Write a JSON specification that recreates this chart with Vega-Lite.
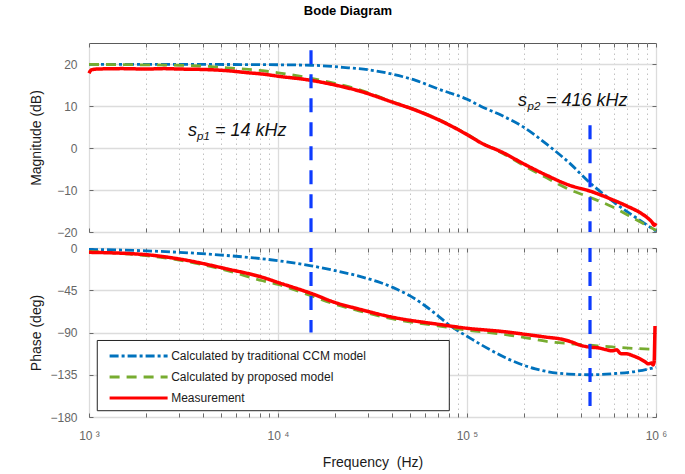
{
  "$schema": "https://vega.github.io/schema/vega-lite/v6.json",
  "background": "white",
  "padding": {"left": 28, "top": 5, "right": 12, "bottom": 4},
  "title": {"text": "Bode Diagram", "fontSize": 13, "fontWeight": "bold", "font": "Liberation Sans", "color": "#000000", "offset": 24, "anchor": "middle"},
  "spacing": 16,
  "bounds": "flush",
  "config": {
    "view": {"stroke": "#5a5a5a", "strokeWidth": 1},
    "font": "Liberation Sans"
  },
  "datasets": {
    "mag": [
      {"s": "Calculated by traditional CCM model", "f": 1000, "v": 19.9},
      {"s": "Calculated by traditional CCM model", "f": 3000, "v": 19.9},
      {"s": "Calculated by traditional CCM model", "f": 8000, "v": 19.85},
      {"s": "Calculated by traditional CCM model", "f": 15000, "v": 19.7},
      {"s": "Calculated by traditional CCM model", "f": 22000, "v": 19.2},
      {"s": "Calculated by traditional CCM model", "f": 31400, "v": 18.5},
      {"s": "Calculated by traditional CCM model", "f": 41000, "v": 17.5},
      {"s": "Calculated by traditional CCM model", "f": 53500, "v": 16.1},
      {"s": "Calculated by traditional CCM model", "f": 70000, "v": 14.1},
      {"s": "Calculated by traditional CCM model", "f": 100000, "v": 11.6},
      {"s": "Calculated by traditional CCM model", "f": 118800, "v": 9.9},
      {"s": "Calculated by traditional CCM model", "f": 155000, "v": 7.6},
      {"s": "Calculated by traditional CCM model", "f": 202000, "v": 4.8},
      {"s": "Calculated by traditional CCM model", "f": 264000, "v": 0.9},
      {"s": "Calculated by traditional CCM model", "f": 345000, "v": -3.4},
      {"s": "Calculated by traditional CCM model", "f": 450000, "v": -8.4},
      {"s": "Calculated by traditional CCM model", "f": 587000, "v": -12.6},
      {"s": "Calculated by traditional CCM model", "f": 700000, "v": -15.1},
      {"s": "Calculated by traditional CCM model", "f": 809000, "v": -17.0},
      {"s": "Calculated by traditional CCM model", "f": 1000000, "v": -19.8},
      {"s": "Calculated by proposed model", "f": 1000, "v": 19.9},
      {"s": "Calculated by proposed model", "f": 2000, "v": 19.8},
      {"s": "Calculated by proposed model", "f": 3000, "v": 19.7},
      {"s": "Calculated by proposed model", "f": 4000, "v": 19.5},
      {"s": "Calculated by proposed model", "f": 5400, "v": 19.1},
      {"s": "Calculated by proposed model", "f": 8300, "v": 18.4},
      {"s": "Calculated by proposed model", "f": 10000, "v": 17.9},
      {"s": "Calculated by proposed model", "f": 15000, "v": 16.6},
      {"s": "Calculated by proposed model", "f": 20000, "v": 15.4},
      {"s": "Calculated by proposed model", "f": 26800, "v": 13.9},
      {"s": "Calculated by proposed model", "f": 41000, "v": 10.9},
      {"s": "Calculated by proposed model", "f": 53500, "v": 9.1},
      {"s": "Calculated by proposed model", "f": 70000, "v": 6.9},
      {"s": "Calculated by proposed model", "f": 100000, "v": 3.3},
      {"s": "Calculated by proposed model", "f": 118800, "v": 1.3},
      {"s": "Calculated by proposed model", "f": 155000, "v": -1.3},
      {"s": "Calculated by proposed model", "f": 202000, "v": -4.3},
      {"s": "Calculated by proposed model", "f": 264000, "v": -7.1},
      {"s": "Calculated by proposed model", "f": 345000, "v": -9.8},
      {"s": "Calculated by proposed model", "f": 450000, "v": -11.8},
      {"s": "Calculated by proposed model", "f": 587000, "v": -14.0},
      {"s": "Calculated by proposed model", "f": 809000, "v": -17.4},
      {"s": "Calculated by proposed model", "f": 1000000, "v": -19.6},
      {"s": "Measurement", "f": 1000, "v": 17.8},
      {"s": "Measurement", "f": 1030, "v": 18.6},
      {"s": "Measurement", "f": 1100, "v": 18.8},
      {"s": "Measurement", "f": 1500, "v": 18.9},
      {"s": "Measurement", "f": 2000, "v": 18.8},
      {"s": "Measurement", "f": 2500, "v": 18.9},
      {"s": "Measurement", "f": 3000, "v": 18.8},
      {"s": "Measurement", "f": 4000, "v": 18.7},
      {"s": "Measurement", "f": 5400, "v": 18.4},
      {"s": "Measurement", "f": 7000, "v": 17.9},
      {"s": "Measurement", "f": 8300, "v": 17.6},
      {"s": "Measurement", "f": 10000, "v": 17.1},
      {"s": "Measurement", "f": 15000, "v": 16.1},
      {"s": "Measurement", "f": 20000, "v": 15.0},
      {"s": "Measurement", "f": 26800, "v": 13.6},
      {"s": "Measurement", "f": 41000, "v": 10.8},
      {"s": "Measurement", "f": 53500, "v": 9.0},
      {"s": "Measurement", "f": 70000, "v": 6.8},
      {"s": "Measurement", "f": 100000, "v": 3.2},
      {"s": "Measurement", "f": 118800, "v": 1.2},
      {"s": "Measurement", "f": 155000, "v": -1.1},
      {"s": "Measurement", "f": 202000, "v": -3.9},
      {"s": "Measurement", "f": 264000, "v": -6.5},
      {"s": "Measurement", "f": 345000, "v": -8.8},
      {"s": "Measurement", "f": 450000, "v": -10.3},
      {"s": "Measurement", "f": 587000, "v": -12.3},
      {"s": "Measurement", "f": 700000, "v": -13.8},
      {"s": "Measurement", "f": 809000, "v": -15.2},
      {"s": "Measurement", "f": 900000, "v": -16.6},
      {"s": "Measurement", "f": 950000, "v": -17.6},
      {"s": "Measurement", "f": 980000, "v": -18.4},
      {"s": "Measurement", "f": 1000000, "v": -17.9}
    ],
    "phase": [
      {"s": "Calculated by traditional CCM model", "f": 1000, "v": -1.5},
      {"s": "Calculated by traditional CCM model", "f": 2000, "v": -3},
      {"s": "Calculated by traditional CCM model", "f": 5000, "v": -7.5},
      {"s": "Calculated by traditional CCM model", "f": 10000, "v": -13.5},
      {"s": "Calculated by traditional CCM model", "f": 15000, "v": -19},
      {"s": "Calculated by traditional CCM model", "f": 20000, "v": -24},
      {"s": "Calculated by traditional CCM model", "f": 26800, "v": -30},
      {"s": "Calculated by traditional CCM model", "f": 35000, "v": -37},
      {"s": "Calculated by traditional CCM model", "f": 41000, "v": -42.5},
      {"s": "Calculated by traditional CCM model", "f": 50000, "v": -51},
      {"s": "Calculated by traditional CCM model", "f": 60000, "v": -61.5},
      {"s": "Calculated by traditional CCM model", "f": 70000, "v": -72},
      {"s": "Calculated by traditional CCM model", "f": 80000, "v": -81.5},
      {"s": "Calculated by traditional CCM model", "f": 90000, "v": -88.5},
      {"s": "Calculated by traditional CCM model", "f": 100000, "v": -94},
      {"s": "Calculated by traditional CCM model", "f": 118800, "v": -103},
      {"s": "Calculated by traditional CCM model", "f": 140000, "v": -111},
      {"s": "Calculated by traditional CCM model", "f": 160000, "v": -117},
      {"s": "Calculated by traditional CCM model", "f": 180000, "v": -121.5},
      {"s": "Calculated by traditional CCM model", "f": 202000, "v": -125.3},
      {"s": "Calculated by traditional CCM model", "f": 230000, "v": -128.7},
      {"s": "Calculated by traditional CCM model", "f": 264000, "v": -131.5},
      {"s": "Calculated by traditional CCM model", "f": 345000, "v": -134.3},
      {"s": "Calculated by traditional CCM model", "f": 450000, "v": -135},
      {"s": "Calculated by traditional CCM model", "f": 587000, "v": -133.9},
      {"s": "Calculated by traditional CCM model", "f": 809000, "v": -131},
      {"s": "Calculated by traditional CCM model", "f": 1000000, "v": -127},
      {"s": "Calculated by proposed model", "f": 1000, "v": -3.6},
      {"s": "Calculated by proposed model", "f": 2000, "v": -8.2},
      {"s": "Calculated by proposed model", "f": 3000, "v": -12.8},
      {"s": "Calculated by proposed model", "f": 5400, "v": -24.2},
      {"s": "Calculated by proposed model", "f": 8300, "v": -34.9},
      {"s": "Calculated by proposed model", "f": 10000, "v": -38.8},
      {"s": "Calculated by proposed model", "f": 15000, "v": -50.9},
      {"s": "Calculated by proposed model", "f": 20000, "v": -59.8},
      {"s": "Calculated by proposed model", "f": 26800, "v": -66.9},
      {"s": "Calculated by proposed model", "f": 41000, "v": -75.8},
      {"s": "Calculated by proposed model", "f": 70000, "v": -82.9},
      {"s": "Calculated by proposed model", "f": 100000, "v": -87.5},
      {"s": "Calculated by proposed model", "f": 155000, "v": -91.9},
      {"s": "Calculated by proposed model", "f": 202000, "v": -95.4},
      {"s": "Calculated by proposed model", "f": 264000, "v": -99.5},
      {"s": "Calculated by proposed model", "f": 345000, "v": -101.8},
      {"s": "Calculated by proposed model", "f": 450000, "v": -103.6},
      {"s": "Calculated by proposed model", "f": 587000, "v": -105.4},
      {"s": "Calculated by proposed model", "f": 809000, "v": -107.2},
      {"s": "Calculated by proposed model", "f": 1000000, "v": -108},
      {"s": "Measurement", "f": 1000, "v": -4.6},
      {"s": "Measurement", "f": 2000, "v": -7.1},
      {"s": "Measurement", "f": 3000, "v": -11.7},
      {"s": "Measurement", "f": 5400, "v": -22.4},
      {"s": "Measurement", "f": 8300, "v": -31.3},
      {"s": "Measurement", "f": 10000, "v": -36.7},
      {"s": "Measurement", "f": 15000, "v": -48.4},
      {"s": "Measurement", "f": 20000, "v": -58},
      {"s": "Measurement", "f": 26800, "v": -65.1},
      {"s": "Measurement", "f": 41000, "v": -74},
      {"s": "Measurement", "f": 70000, "v": -81.2},
      {"s": "Measurement", "f": 100000, "v": -85.5},
      {"s": "Measurement", "f": 155000, "v": -89},
      {"s": "Measurement", "f": 202000, "v": -91.9},
      {"s": "Measurement", "f": 264000, "v": -95},
      {"s": "Measurement", "f": 311000, "v": -96.8},
      {"s": "Measurement", "f": 345000, "v": -99},
      {"s": "Measurement", "f": 405000, "v": -104},
      {"s": "Measurement", "f": 446000, "v": -105.6},
      {"s": "Measurement", "f": 500000, "v": -106.5},
      {"s": "Measurement", "f": 550000, "v": -108.5},
      {"s": "Measurement", "f": 587000, "v": -109.5},
      {"s": "Measurement", "f": 620000, "v": -108.5},
      {"s": "Measurement", "f": 650000, "v": -112.5},
      {"s": "Measurement", "f": 700000, "v": -112.7},
      {"s": "Measurement", "f": 760000, "v": -115},
      {"s": "Measurement", "f": 823000, "v": -118},
      {"s": "Measurement", "f": 880000, "v": -121.5},
      {"s": "Measurement", "f": 910000, "v": -123.4},
      {"s": "Measurement", "f": 948000, "v": -122.5},
      {"s": "Measurement", "f": 965000, "v": -124.5},
      {"s": "Measurement", "f": 978000, "v": -121},
      {"s": "Measurement", "f": 984000, "v": -100},
      {"s": "Measurement", "f": 988000, "v": -83}
    ],
    "vlinesMag": [
      {"f": 14950, "top": 23.3, "bottom": -20},
      {"f": 447600, "top": 5.4, "bottom": -20}
    ],
    "vlinesPhase": [
      {"f": 14950, "top": 0, "bottom": -90},
      {"f": 447600, "top": 0, "bottom": -168.6}
    ],
    "noteMain": [
      {"f": 3341, "v": 2.8, "t": "s"},
      {"f": 4642, "v": 2.8, "t": "= 14 kHz"},
      {"f": 186200, "v": 10.0, "t": "s"},
      {"f": 261900, "v": 10.0, "t": "= 416 kHz"}
    ],
    "noteSub": [
      {"f": 3727, "v": 1.8, "t": "p1"},
      {"f": 209000, "v": 9.0, "t": "p2"}
    ],
    "legendBox": [
      {"f": 1106, "f2": 80600, "v": -98.5, "v2": -173.3}
    ]
  },
  "resolve": {
    "scale": {"color": "independent", "strokeDash": "independent"},
    "legend": {"color": "independent", "strokeDash": "independent"}
  },
  "vconcat": [
    {
      "width": 567,
      "height": 189,
      "resolve": {"axis": {"x": "independent", "y": "independent"}},
      "layer": [
        {
          "data": {"name": "mag"},
          "mark": {"type": "line", "interpolate": "monotone"},
          "encoding": {
            "x": {
              "field": "f", "type": "quantitative",
              "scale": {"type": "log", "domain": [1000, 1000000], "nice": false},
              "axis": {
                "values": [1000, 2000, 3000, 4000, 5000, 6000, 7000, 8000, 9000, 10000, 20000, 30000, 40000, 50000, 60000, 70000, 80000, 90000, 100000, 200000, 300000, 400000, 500000, 600000, 700000, 800000, 900000, 1000000],
                "labels": false, "title": null, "domain": false,
                "ticks": true, "tickSize": -4, "tickColor": "#6a6a6a", "tickWidth": 1,
                "grid": true,
                "gridColor": {"condition": {"test": "indexof([1000,10000,100000,1000000], datum.value) >= 0", "value": "#dcdcdc"}, "value": "#c2c2c2"},
                "gridDash": {"condition": {"test": "indexof([1000,10000,100000,1000000], datum.value) >= 0", "value": []}, "value": [1.5, 3.5]},
                "gridWidth": {"condition": {"test": "indexof([1000,10000,100000,1000000], datum.value) >= 0", "value": 1.3}, "value": 1},
                "minExtent": 0, "maxExtent": 0
              }
            },
            "y": {
              "field": "v", "type": "quantitative",
              "scale": {"domain": [-20, 25], "nice": false, "zero": false},
              "axis": {
                "values": [-20, -10, 0, 10, 20],
                "title": "Magnitude (dB)", "titleFontSize": 14, "titleFontWeight": "normal", "titleColor": "#1a1a1a", "titlePadding": 10,
                "grid": true, "gridColor": "#dcdcdc", "gridWidth": 1.3,
                "domain": false, "ticks": true, "tickSize": -4, "tickColor": "#6a6a6a",
                "labelPadding": 16, "labelColor": "#666666", "labelFontSize": 12, "labelFont": "Liberation Sans",
                "minExtent": 36, "maxExtent": 36
              }
            },
            "color": {
              "field": "s", "type": "nominal",
              "scale": {"domain": ["Calculated by traditional CCM model", "Calculated by proposed model", "Measurement"], "range": ["#0072BD", "#77AC30", "#FF0000"]},
              "legend": null
            },
            "strokeDash": {
              "field": "s", "type": "nominal",
              "scale": {"domain": ["Calculated by traditional CCM model", "Calculated by proposed model", "Measurement"], "range": [[9, 3, 3, 3], [10, 7], [1, 0]]},
              "legend": null
            },
            "strokeWidth": {"condition": {"test": "datum.s === 'Measurement'", "value": 3.5}, "value": 2.8}
          }
        },
        {
          "data": {"name": "vlinesMag"},
          "mark": {"type": "rule", "color": "#0d3bff", "strokeWidth": 3.2, "strokeDash": [14, 10]},
          "encoding": {
            "x": {
              "field": "f", "type": "quantitative",
              "axis": {
                "orient": "top",
                "values": [1000, 2000, 3000, 4000, 5000, 6000, 7000, 8000, 9000, 10000, 20000, 30000, 40000, 50000, 60000, 70000, 80000, 90000, 100000, 200000, 300000, 400000, 500000, 600000, 700000, 800000, 900000, 1000000],
                "labels": false, "title": null, "domain": false, "grid": false,
                "ticks": true, "tickSize": -4, "tickColor": "#6a6a6a",
                "minExtent": 0, "maxExtent": 0
              }
            },
            "y": {
              "field": "top", "type": "quantitative",
              "axis": {
                "orient": "right", "values": [-20, -10, 0, 10, 20],
                "labels": false, "title": null, "domain": false, "grid": false,
                "ticks": true, "tickSize": -4, "tickColor": "#6a6a6a",
                "minExtent": 0, "maxExtent": 0
              }
            },
            "y2": {"field": "bottom"}
          }
        },
        {
          "data": {"name": "noteMain"},
          "mark": {"type": "text", "font": "Liberation Sans", "fontStyle": "italic", "fontSize": 18, "align": "left", "baseline": "alphabetic", "color": "#111111"},
          "encoding": {
            "x": {"field": "f", "type": "quantitative", "axis": null},
            "y": {"field": "v", "type": "quantitative", "axis": null},
            "text": {"field": "t"}
          }
        },
        {
          "data": {"name": "noteSub"},
          "mark": {"type": "text", "font": "Liberation Sans", "fontStyle": "italic", "fontSize": 11.5, "align": "left", "baseline": "alphabetic", "color": "#111111"},
          "encoding": {
            "x": {"field": "f", "type": "quantitative", "axis": null},
            "y": {"field": "v", "type": "quantitative", "axis": null},
            "text": {"field": "t"}
          }
        }
      ]
    },
    {
      "width": 567,
      "height": 169,
      "resolve": {"axis": {"x": "independent", "y": "independent"}},
      "layer": [
        {
          "data": {"name": "phase"},
          "mark": {"type": "line", "interpolate": "monotone"},
          "encoding": {
            "x": {
              "field": "f", "type": "quantitative",
              "scale": {"type": "log", "domain": [1000, 1000000], "nice": false},
              "axis": {
                "values": [1000, 2000, 3000, 4000, 5000, 6000, 7000, 8000, 9000, 10000, 20000, 30000, 40000, 50000, 60000, 70000, 80000, 90000, 100000, 200000, 300000, 400000, 500000, 600000, 700000, 800000, 900000, 1000000],
                "labelExpr": "datum.value == 1000 ? '10 ³' : datum.value == 10000 ? '10 ⁴' : datum.value == 100000 ? '10 ⁵' : datum.value == 1000000 ? '10 ⁶' : ''",
                "labelFlush": false, "labelOverlap": false, "labelBound": false,
                "labelColor": "#666666", "labelFontSize": 12, "labelFont": "Liberation Sans", "labelPadding": 17,
                "title": "Frequency \u00a0(Hz)", "titleFontSize": 14, "titleFontWeight": "normal", "titleColor": "#1a1a1a", "titlePadding": 14,
                "domain": false,
                "ticks": true, "tickSize": -4, "tickColor": "#6a6a6a", "tickWidth": 1,
                "grid": true,
                "gridColor": {"condition": {"test": "indexof([1000,10000,100000,1000000], datum.value) >= 0", "value": "#dcdcdc"}, "value": "#c2c2c2"},
                "gridDash": {"condition": {"test": "indexof([1000,10000,100000,1000000], datum.value) >= 0", "value": []}, "value": [1.5, 3.5]},
                "gridWidth": {"condition": {"test": "indexof([1000,10000,100000,1000000], datum.value) >= 0", "value": 1.3}, "value": 1}
              }
            },
            "y": {
              "field": "v", "type": "quantitative",
              "scale": {"domain": [-180, 0], "nice": false, "zero": false},
              "axis": {
                "values": [-180, -135, -90, -45, 0],
                "title": "Phase (deg)", "titleFontSize": 14, "titleFontWeight": "normal", "titleColor": "#1a1a1a", "titlePadding": 10,
                "grid": true, "gridColor": "#dcdcdc", "gridWidth": 1.3,
                "domain": false, "ticks": true, "tickSize": -4, "tickColor": "#6a6a6a",
                "labelPadding": 16, "labelColor": "#666666", "labelFontSize": 12, "labelFont": "Liberation Sans",
                "minExtent": 36, "maxExtent": 36
              }
            },
            "color": {
              "field": "s", "type": "nominal",
              "scale": {"domain": ["Calculated by traditional CCM model", "Calculated by proposed model", "Measurement"], "range": ["#0072BD", "#77AC30", "#FF0000"]},
              "legend": {"orient": "none", "legendX": 43.6, "legendY": 102, "title": null, "symbolType": "M-10,0H10", "symbolSize": 33.64, "symbolStrokeWidth": 3, "labelFont": "Liberation Sans", "labelFontSize": 12, "labelColor": "#1a1a1a", "labelLimit": 400, "labelOffset": 26.6, "rowPadding": 9, "padding": 0}
            },
            "strokeDash": {
              "field": "s", "type": "nominal",
              "scale": {"domain": ["Calculated by traditional CCM model", "Calculated by proposed model", "Measurement"], "range": [[9, 3, 3, 3], [10, 7], [1, 0]]},
              "legend": {"orient": "none", "legendX": 43.6, "legendY": 102, "title": null, "symbolType": "M-10,0H10", "symbolSize": 33.64, "symbolStrokeWidth": 3, "labelFont": "Liberation Sans", "labelFontSize": 12, "labelColor": "#1a1a1a", "labelLimit": 400, "labelOffset": 26.6, "rowPadding": 9, "padding": 0}
            },
            "strokeWidth": {"condition": {"test": "datum.s === 'Measurement'", "value": 3.5}, "value": 2.8}
          }
        },
        {
          "data": {"name": "vlinesPhase"},
          "mark": {"type": "rule", "color": "#0d3bff", "strokeWidth": 3.2, "strokeDash": [14, 10]},
          "encoding": {
            "x": {
              "field": "f", "type": "quantitative",
              "axis": {
                "orient": "top",
                "values": [1000, 2000, 3000, 4000, 5000, 6000, 7000, 8000, 9000, 10000, 20000, 30000, 40000, 50000, 60000, 70000, 80000, 90000, 100000, 200000, 300000, 400000, 500000, 600000, 700000, 800000, 900000, 1000000],
                "labels": false, "title": null, "domain": false, "grid": false,
                "ticks": true, "tickSize": -4, "tickColor": "#6a6a6a",
                "minExtent": 0, "maxExtent": 0
              }
            },
            "y": {
              "field": "top", "type": "quantitative",
              "axis": {
                "orient": "right", "values": [-180, -135, -90, -45, 0],
                "labels": false, "title": null, "domain": false, "grid": false,
                "ticks": true, "tickSize": -4, "tickColor": "#6a6a6a",
                "minExtent": 0, "maxExtent": 0
              }
            },
            "y2": {"field": "bottom"}
          }
        },
        {
          "data": {"name": "legendBox"},
          "mark": {"type": "rect", "fill": "white", "stroke": "#222222", "strokeWidth": 1},
          "encoding": {
            "x": {"field": "f", "type": "quantitative", "axis": null},
            "x2": {"field": "f2"},
            "y": {"field": "v", "type": "quantitative", "axis": null},
            "y2": {"field": "v2"}
          }
        }
      ]
    }
  ]
}
